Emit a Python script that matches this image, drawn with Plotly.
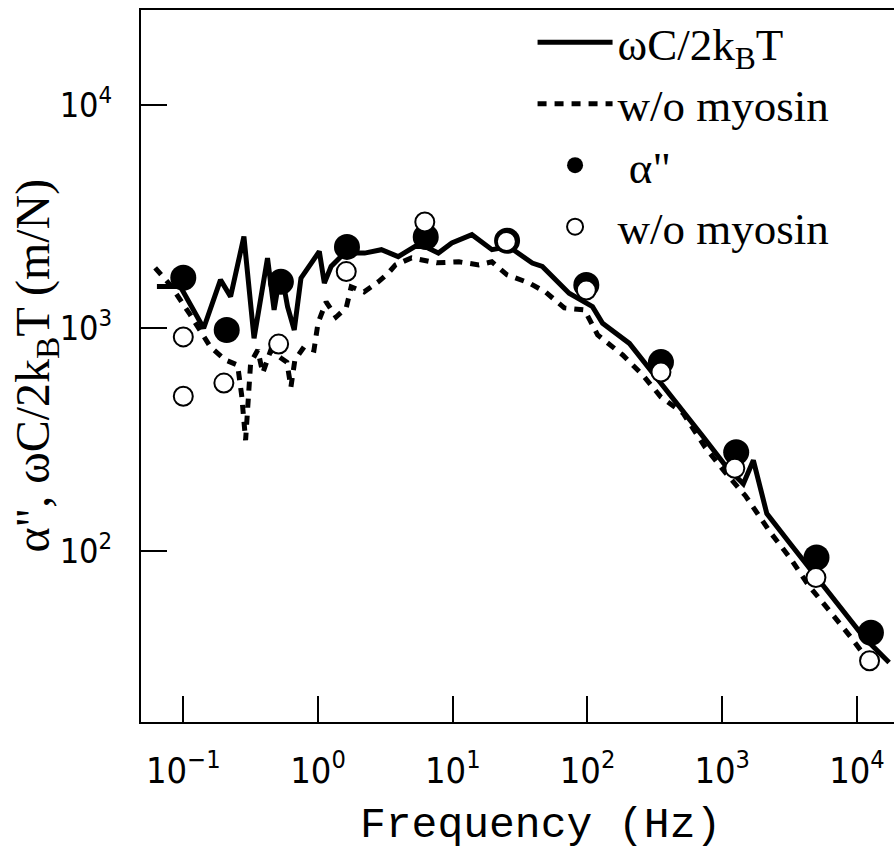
import plotly.graph_objects as go

# Solid line: omega C / 2 kB T (with myosin)
line_f = [0.0637, 0.095, 0.1416, 0.1888, 0.2244, 0.2818, 0.335, 0.4217, 0.472, 0.53,
          0.594, 0.666, 0.747, 0.938, 1.022, 1.114, 1.25, 1.571, 2.218, 2.953,
          3.935, 5.23, 6.21, 7.82, 9.84, 13.87, 19.55, 26.06, 38.9, 46.2,
          73, 108.9, 129.4, 204.7, 257, 363, 512, 722, 1077, 1435,
          1703, 2143, 3200, 4775, 7130, 11270, 17330]
line_v = [1535, 1535, 997, 1643, 1383, 2570, 899, 2056, 1205, 1823,
          1247, 980, 1672, 2022, 2204, 1589, 1888, 2167, 2167, 2244,
          2090, 2318, 2318, 2167, 2404, 2620, 2244, 2318, 1954, 1888,
          1432, 1247, 1050, 853, 718, 545, 428, 325, 238, 200,
          255, 147, 107.7, 79, 58, 41, 31.6]

# Dashed line: w/o myosin
dash_f = [0.0618, 0.080, 0.1128, 0.159, 0.2055, 0.253, 0.271, 0.290, 0.316, 0.357,
          0.389, 0.446, 0.53, 0.587, 0.629, 0.673, 0.787, 0.933, 1.0, 1.148,
          1.362, 1.618, 1.762, 2.20, 2.80, 3.33, 3.76, 4.94, 7.6, 11.1,
          15.6, 19.5, 25.3, 36.9, 48.6, 67.3, 95, 118.9, 182.5, 257,
          351, 512, 747, 1052, 1485, 2281, 3214, 4385, 6397, 9180, 12950]
dash_v = [1862, 1560, 1144, 822, 718, 682, 500, 314, 697, 796,
          628, 796, 733, 703, 543, 718, 822, 796, 1053, 1309,
          1120, 1230, 1528, 1452, 1610, 1766, 1918, 2063, 1959, 1980,
          1918, 1980, 1730, 1592, 1452, 1230, 1205, 931, 757, 615,
          490, 415, 292, 225, 177, 121, 92.5, 70, 53, 40.5, 30.6]

# alpha'' (filled circles)
alpha_f = [0.1, 0.21, 0.53, 1.64, 6.3, 25.3, 98, 351, 1270, 5010, 12700]
alpha_v = [1680, 980, 1610, 2310, 2560, 2460, 1560, 703, 277, 93.5, 43]

# alpha'' w/o myosin (open circles)
open_f = [0.1, 0.1, 0.2, 0.51, 1.62, 6.2, 25, 98, 351, 1240, 4960, 12400]
open_v = [912, 494, 566, 847, 1790, 2990, 2440, 1480, 634, 235, 76, 32.2]

x_tickvals = [0.1, 1, 10, 100, 1000, 10000]
x_ticktext = ["10<sup>−1</sup>", "10<sup>0</sup>", "10<sup>1</sup>",
              "10<sup>2</sup>", "10<sup>3</sup>", "10<sup>4</sup>"]
y_tickvals = [100, 1000, 10000]
y_ticktext = ["10<sup>2</sup>", "10<sup>3</sup>", "10<sup>4</sup>"]

x_title = "Frequency (Hz)"
y_title = "α\", ωC/2k<sub>B</sub>T (m/N)"

fig = go.Figure()
fig.add_trace(go.Scatter(x=line_f, y=line_v, mode="lines", name="ωC/2k<sub>B</sub>T",
                         line=dict(color="black", width=5), legendgroup="a"))
fig.add_trace(go.Scatter(x=dash_f, y=dash_v, mode="lines", name="w/o myosin",
                         line=dict(color="black", width=5, dash="9px,8px"), legendgroup="b"))
fig.add_trace(go.Scatter(x=alpha_f, y=alpha_v, mode="markers", name=" α\"",
                         marker=dict(color="black", size=26), legendgroup="c"))
fig.add_trace(go.Scatter(x=open_f, y=open_v, mode="markers", name="w/o myosin",
                         marker=dict(color="white", size=19, line=dict(color="black", width=2)),
                         legendgroup="d"))

narrow = "DejaVu Sans Condensed, Liberation Sans Narrow, sans-serif"
serif = "Liberation Serif, Times New Roman, serif"

fig.update_layout(
    width=894, height=850,
    margin=dict(l=141, r=0, t=10, b=128),
    paper_bgcolor="white", plot_bgcolor="white",
    showlegend=True,
    legend=dict(x=0.52, y=1.005, xanchor="left", yanchor="top",
                font=dict(family=serif, size=45, color="black"),
                bgcolor="rgba(0,0,0,0)", itemwidth=75, tracegroupgap=0,
                itemsizing="trace"),
    xaxis=dict(type="log", range=[-1.314, 4.275],
               tickvals=x_tickvals, ticktext=x_ticktext,
               ticks="inside", ticklen=26, tickwidth=2, tickcolor="black",
               showline=True, linecolor="black", linewidth=2, mirror=True,
               showgrid=False, zeroline=False,
               tickfont=dict(family=narrow, size=36, color="black"),
               ticklabelstandoff=16),
    yaxis=dict(type="log", range=[1.233, 4.426],
               tickvals=y_tickvals, ticktext=y_ticktext,
               ticks="inside", ticklen=26, tickwidth=2, tickcolor="black",
               showline=True, linecolor="black", linewidth=2, mirror=False,
               showgrid=False, zeroline=False,
               tickfont=dict(family=narrow, size=34, color="black"),
               ticklabelstandoff=20),
    annotations=[
        dict(text=x_title, xref="paper", yref="paper", x=0.53, y=-0.145,
             xanchor="center", yanchor="middle", showarrow=False,
             font=dict(family="Liberation Mono, DejaVu Sans Mono, monospace",
                       size=43, color="black")),
        dict(text=y_title, xref="paper", yref="paper", x=-0.14, y=0.50,
             xanchor="center", yanchor="middle", showarrow=False, textangle=-90,
             font=dict(family=serif, size=48, color="black")),
    ],
)

fig.write_html("out.html")
